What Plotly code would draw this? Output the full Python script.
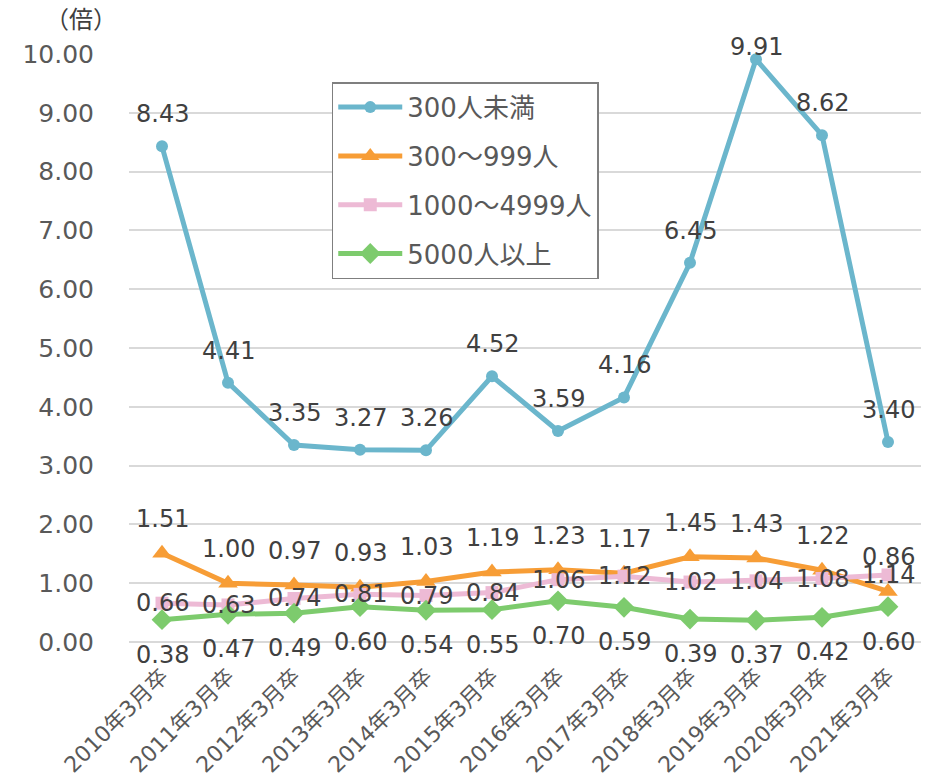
import plotly.graph_objects as go

# Ratio of job openings to applicants by company size (graduates of March each year)
categories = ["2010年3月卒", "2011年3月卒", "2012年3月卒", "2013年3月卒", "2014年3月卒",
              "2015年3月卒", "2016年3月卒", "2017年3月卒", "2018年3月卒", "2019年3月卒",
              "2020年3月卒", "2021年3月卒"]
under_300 = [8.43, 4.41, 3.35, 3.27, 3.26, 4.52, 3.59, 4.16, 6.45, 9.91, 8.62, 3.40]
from_300_to_999 = [1.51, 1.00, 0.97, 0.93, 1.03, 1.19, 1.23, 1.17, 1.45, 1.43, 1.22, 0.86]
from_1000_to_4999 = [0.66, 0.63, 0.74, 0.81, 0.79, 0.84, 1.06, 1.12, 1.02, 1.04, 1.08, 1.14]
over_5000 = [0.38, 0.47, 0.49, 0.60, 0.54, 0.55, 0.70, 0.59, 0.39, 0.37, 0.42, 0.60]

FONT = "DejaVu Sans, Verdana, Noto Sans CJK JP, sans-serif"
LABEL_COLOR = "#404040"
TICK_COLOR = "#595959"

W, H = 934, 784
M_L, M_R, M_T, M_B = 129, 13, 54, 142
Y_MAX = 10
PX_PER_UNIT = (H - M_T - M_B) / Y_MAX
LABEL_TOP_LIMIT = 7  # label centre may sit at most this far above the plot area

# name, values, colour, marker symbol, marker size, label shift in px (+ = up)
series = [
    ("300人未満", under_300, "#6BB6CC", "circle", 12, 32),
    ("300～999人", from_300_to_999, "#F79D36", "triangle-up", 17, 34),
    ("1000～4999人", from_1000_to_4999, "#EDBAD5", "square", 13, 0),
    ("5000人以上", over_5000, "#7DCB6D", "diamond", 16, -35),
]

fig = go.Figure()
annotations = []
for i, (name, values, color, symbol, size, shift) in enumerate(series):
    fig.add_trace(go.Scatter(
        x=categories, y=values, name=name, legendgroup=f"g{i}",
        mode="lines+markers",
        line=dict(color=color, width=5),
        marker=dict(color=color, symbol=symbol, size=size),
        cliponaxis=False,
    ))
    for cat, v in zip(categories, values):
        # keep labels of the highest points inside the chart
        room = (Y_MAX - v) * PX_PER_UNIT + LABEL_TOP_LIMIT
        annotations.append(dict(
            x=cat, y=v, xref="x", yref="y", text=f"{v:.2f}", showarrow=False,
            yshift=min(shift, room), xanchor="center", yanchor="middle",
            font=dict(family=FONT, size=24, color=LABEL_COLOR),
        ))

annotations.append(dict(
    text="（倍）", x=(43 - M_L) / (W - M_L - M_R), y=1.058,
    xref="paper", yref="paper", xanchor="left", yanchor="middle", showarrow=False,
    font=dict(family=FONT, size=24, color=LABEL_COLOR),
))

fig.update_layout(
    width=W, height=H,
    margin=dict(l=M_L, r=M_R, t=M_T, b=M_B, autoexpand=False),
    paper_bgcolor="white", plot_bgcolor="white",
    font=dict(family=FONT, color=TICK_COLOR),
    showlegend=True,
    legend=dict(
        x=0.256, y=0.952, xanchor="left", yanchor="top",
        bordercolor="#7F7F7F", borderwidth=1.5, bgcolor="white",
        font=dict(family=FONT, size=26, color=TICK_COLOR),
        traceorder="grouped", tracegroupgap=12, itemwidth=64,
    ),
    annotations=annotations,
)
fig.update_xaxes(
    type="category", range=[-0.5, 11.5], tickangle=-45, automargin=False,
    showgrid=False, showline=False, ticks="", ticklabelstandoff=16,
    tickfont=dict(family=FONT, size=22, color=TICK_COLOR),
)
fig.update_yaxes(
    range=[0, Y_MAX], dtick=1, tickformat=".2f", automargin=False,
    showgrid=True, gridcolor="#D9D9D9", gridwidth=1.5,
    zeroline=True, zerolinecolor="#D9D9D9", zerolinewidth=1.5,
    showline=False, ticks="", ticklabelstandoff=34,
    tickfont=dict(family=FONT, size=25, color=TICK_COLOR),
)

fig.write_html("out.html")
